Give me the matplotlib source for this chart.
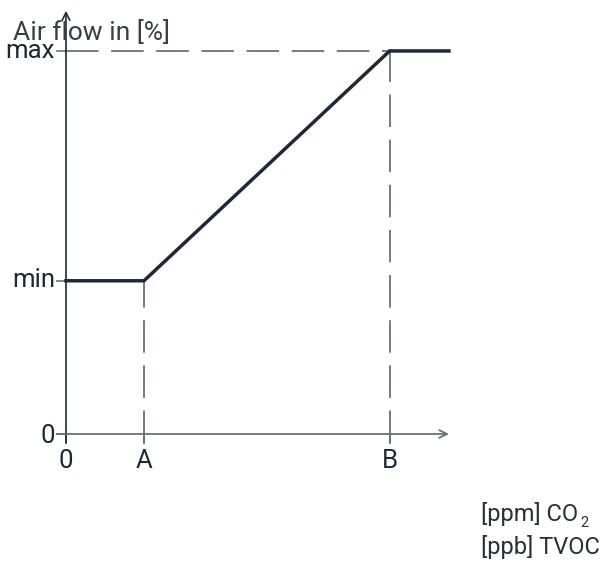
import matplotlib
matplotlib.use("Agg")
import matplotlib.pyplot as plt
from matplotlib.transforms import offset_copy

# Data (x in relative units: A=1; y in % air flow)
x_points = [0, 1, 4.15, 4.91]
y_points = [40, 40, 100, 100]
x_tick_pos = [0, 1, 4.15]
x_tick_labels = ["0", "A", "B"]
y_tick_pos = [0, 40, 100]
y_tick_labels = ["0", "min", "max"]

plt.rcParams['font.family'] = ['Roboto', 'DejaVu Sans']

fig = plt.figure(figsize=(6.03, 5.63), dpi=100)
ax = fig.add_axes([0, 0, 1, 1])
ax.set_xlim(-0.846, 6.885)
ax.set_ylim(-33.68, 113.3)
ax.axis('off')

dark = '#1f2838'
gray = '#6b7079'

# dashed guides
ax.plot([0, x_points[2]], [100, 100], color=gray, lw=1.3, dashes=(18, 7))
ax.plot([x_points[1], x_points[1]], [-2.3, 40], color=gray, lw=1.3, dashes=(18, 7))
ax.plot([x_points[2], x_points[2]], [-2.3, 100], color=gray, lw=1.3, dashes=(18, 7))

# axes with arrows
ax.annotate('', xy=(0, 110.5), xytext=(0, -2.3),
            arrowprops=dict(arrowstyle='->', color=dark, lw=1.2, mutation_scale=14, shrinkA=0, shrinkB=0))
ax.annotate('', xy=(4.91, 0), xytext=(-0.12, 0),
            arrowprops=dict(arrowstyle='->', color=gray, lw=1.3, mutation_scale=14, shrinkA=0, shrinkB=0))

# ticks
for yv in y_tick_pos:
    ax.plot([-0.12, 0], [yv, yv], color=gray, lw=1.2)
for xv in x_tick_pos:
    ax.plot([xv, xv], [0, -2.3], color=gray, lw=1.3)

# main curve
ax.plot(x_points, y_points, color=dark, lw=2.5, solid_joinstyle='miter')

# tick labels
y_label_base = {"0": -2.35, "min": 38.4, "max": 98.2}
for yv, lab in zip(y_tick_pos, y_tick_labels):
    ax.text(-0.14, y_label_base[lab], lab, ha='right', va='baseline', fontsize=18.5, color=dark)
for xv, lab in zip(x_tick_pos, x_tick_labels):
    ax.text(xv, -8.9, lab, ha='center', va='baseline', fontsize=18.5, color=dark)

ax.text(-0.676, 102.9, "Air flow in [%]", ha='left', va='baseline', fontsize=19,
        color='#3a3f47')
t1 = ax.text(5.325, -22.6, "[ppm] CO", ha='left', va='baseline', fontsize=17, color='#2a2f38')
fig.canvas.draw()
bb = t1.get_window_extent()
x_end = ax.transData.inverted().transform((bb.x1, bb.y0))[0]
ax.text(x_end + 0.02, -24.3, "2", ha='left', va='baseline', fontsize=10.5, color='#2a2f38')
ax.text(5.325, -31.3, "[ppb] TVOC", ha='left', va='baseline', fontsize=17, color='#2a2f38')

fig.savefig('out.png', dpi=100)
